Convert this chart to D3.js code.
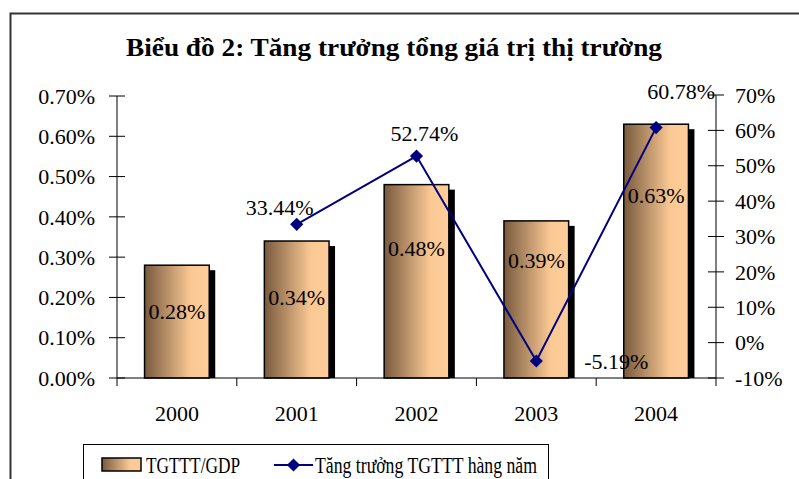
<!DOCTYPE html>
<html>
<head>
<meta charset="utf-8">
<script src="https://cdn.jsdelivr.net/npm/d3@7/dist/d3.min.js"></script>
<style>
  body { margin: 0; background: #fff; }
</style>
</head>
<body>
<svg id="chart" width="799" height="479" font-family="'Liberation Serif', 'Times New Roman', serif"></svg>
<script>
const years = ["2000", "2001", "2002", "2003", "2004"];
const ratioGdp = [0.28, 0.34, 0.48, 0.39, 0.63];          // TGTTT/GDP, %
const growth = [null, 33.44, 52.74, -5.19, 60.78];       // annual growth, %
const leftTicks = [0, 0.1, 0.2, 0.3, 0.4, 0.5, 0.6, 0.7];
const rightTicks = [-10, 0, 10, 20, 30, 40, 50, 60, 70];

// where the labels sit (as in the original, they were dragged around)
const barLabelAt = [0.165, 0.2, 0.323, 0.293, 0.454];
const lineLabelShift = [null, [-17, -17], [8, -23], [80, 0], [25, -36]];

const fs = 22;
const svg = d3.select("#chart");
const plot = { left: 117, right: 716, top: 96, bottom: 378 };

const x = d3.scaleBand().domain(years)
    .range([plot.left, plot.right])
    .paddingInner(0.46).paddingOuter(0.23);
const yL = d3.scaleLinear().domain([0, 0.7]).range([plot.bottom, plot.top]);
const yR = d3.scaleLinear().domain([-10, 70]).range([plot.bottom, plot.top - 1]);

const defs = svg.append("defs");
const grad = defs.append("linearGradient").attr("id", "barGrad")
    .attr("x1", "0%").attr("x2", "100%").attr("y1", "0%").attr("y2", "0%");
grad.append("stop").attr("offset", "0%").attr("stop-color", "#785a3e");
grad.append("stop").attr("offset", "72%").attr("stop-color", "#fbc994");
grad.append("stop").attr("offset", "100%").attr("stop-color", "#fecc98");

// chart frame
svg.append("path")
    .attr("d", "M10.5,480 V13.5 H800")
    .attr("fill", "none").attr("stroke", "#333").attr("stroke-width", 2);

svg.append("text")
    .attr("x", 126).attr("y", 56)
    .attr("font-size", 26).attr("font-weight", "bold")
    .attr("textLength", 536).attr("lengthAdjust", "spacingAndGlyphs")
    .text("Biểu đồ 2: Tăng trưởng tổng giá trị thị trường");

// bars with their drop shadow
const bars = svg.append("g");
bars.selectAll(".shadow").data(ratioGdp).join("rect")
    .attr("class", "shadow")
    .attr("x", (d, i) => x(years[i]) + 6)
    .attr("y", d => yL(d) + 5)
    .attr("width", x.bandwidth())
    .attr("height", d => yL(0) - yL(d) - 5)
    .attr("fill", "#000");
bars.selectAll(".bar").data(ratioGdp).join("rect")
    .attr("class", "bar")
    .attr("x", (d, i) => x(years[i]))
    .attr("y", d => yL(d))
    .attr("width", x.bandwidth())
    .attr("height", d => yL(0) - yL(d))
    .attr("fill", "url(#barGrad)")
    .attr("stroke", "#000").attr("stroke-width", 1.5);

// axes
const fmtL = d => d.toFixed(2) + "%";
const leftAxis = svg.append("g");
leftAxis.append("line")
    .attr("x1", plot.left).attr("x2", plot.left)
    .attr("y1", yL(0.7)).attr("y2", plot.bottom + 8)
    .attr("stroke", "#000");
leftAxis.selectAll(".tk").data(leftTicks).join("line")
    .attr("x1", plot.left - 8).attr("x2", plot.left + 8)
    .attr("y1", d => yL(d)).attr("y2", d => yL(d))
    .attr("stroke", "#000");
leftAxis.selectAll("text").data(leftTicks).join("text")
    .attr("x", 95).attr("y", d => yL(d))
    .attr("dy", "0.35em").attr("text-anchor", "end")
    .attr("font-size", fs)
    .text(fmtL);

const rightAxis = svg.append("g");
rightAxis.append("line")
    .attr("x1", plot.right).attr("x2", plot.right)
    .attr("y1", yR(70)).attr("y2", plot.bottom + 8)
    .attr("stroke", "#000");
rightAxis.selectAll(".tk").data(rightTicks).join("line")
    .attr("x1", plot.right - 8).attr("x2", plot.right + 8)
    .attr("y1", d => yR(d)).attr("y2", d => yR(d))
    .attr("stroke", "#000");
rightAxis.selectAll("text").data(rightTicks).join("text")
    .attr("x", 735).attr("y", d => yR(d))
    .attr("dy", "0.35em")
    .attr("font-size", fs)
    .text(d => d + "%");

const bottomAxis = svg.append("g");
bottomAxis.append("line")
    .attr("x1", plot.left).attr("x2", plot.right)
    .attr("y1", plot.bottom).attr("y2", plot.bottom)
    .attr("stroke", "#000");
bottomAxis.selectAll(".tk").data(years.slice(1)).join("line")
    .attr("x1", d => x(d) - x.step() * x.paddingInner() / 2)
    .attr("x2", d => x(d) - x.step() * x.paddingInner() / 2)
    .attr("y1", plot.bottom).attr("y2", plot.bottom + 8)
    .attr("stroke", "#000");
bottomAxis.selectAll("text").data(years).join("text")
    .attr("x", d => x(d) + x.bandwidth() / 2)
    .attr("y", 421)
    .attr("text-anchor", "middle")
    .attr("font-size", fs)
    .text(d => d);

// bar labels
svg.append("g").selectAll("text").data(ratioGdp).join("text")
    .attr("x", (d, i) => x(years[i]) + x.bandwidth() / 2)
    .attr("y", (d, i) => yL(barLabelAt[i]))
    .attr("dy", "0.35em").attr("text-anchor", "middle")
    .attr("font-size", fs)
    .text(d => d.toFixed(2) + "%");

// growth line
const pts = growth.map((v, i) => ({ year: years[i], v, i })).filter(d => d.v !== null);
const cx = d => x(d.year) + x.bandwidth() / 2;
const line = d3.line().x(cx).y(d => yR(d.v));
svg.append("path")
    .attr("d", line(pts))
    .attr("fill", "none").attr("stroke", "#000080").attr("stroke-width", 2);
const diamond = d3.symbol().type(d3.symbolDiamond2).size(110);
svg.append("g").selectAll("path").data(pts).join("path")
    .attr("d", diamond)
    .attr("transform", d => `translate(${cx(d)},${yR(d.v)})`)
    .attr("fill", "#000080");
svg.append("g").selectAll("text").data(pts).join("text")
    .attr("x", d => cx(d) + lineLabelShift[d.i][0])
    .attr("y", d => yR(d.v) + lineLabelShift[d.i][1])
    .attr("dy", "0.35em").attr("text-anchor", "middle")
    .attr("font-size", fs)
    .text(d => d.v.toFixed(2) + "%");

// legend
const legend = svg.append("g");
legend.append("rect")
    .attr("x", 83.5).attr("y", 444.5).attr("width", 465).attr("height", 50)
    .attr("fill", "#fff").attr("stroke", "#000");
legend.append("rect")
    .attr("x", 102).attr("y", 458).attr("width", 39).attr("height", 13)
    .attr("fill", "url(#barGrad)").attr("stroke", "#000").attr("stroke-width", 1.5);
legend.append("text")
    .attr("x", 146).attr("y", 465).attr("dy", "0.35em")
    .attr("font-size", 24)
    .attr("textLength", 94).attr("lengthAdjust", "spacingAndGlyphs")
    .text("TGTTT/GDP");
legend.append("line")
    .attr("x1", 274).attr("x2", 313).attr("y1", 465).attr("y2", 465)
    .attr("stroke", "#000080").attr("stroke-width", 2);
legend.append("path")
    .attr("d", diamond)
    .attr("transform", "translate(293.5,465)")
    .attr("fill", "#000080");
legend.append("text")
    .attr("x", 315).attr("y", 465).attr("dy", "0.35em")
    .attr("font-size", 24)
    .attr("textLength", 222).attr("lengthAdjust", "spacingAndGlyphs")
    .text("Tăng trưởng TGTTT hàng năm");
</script>
</body>
</html>
